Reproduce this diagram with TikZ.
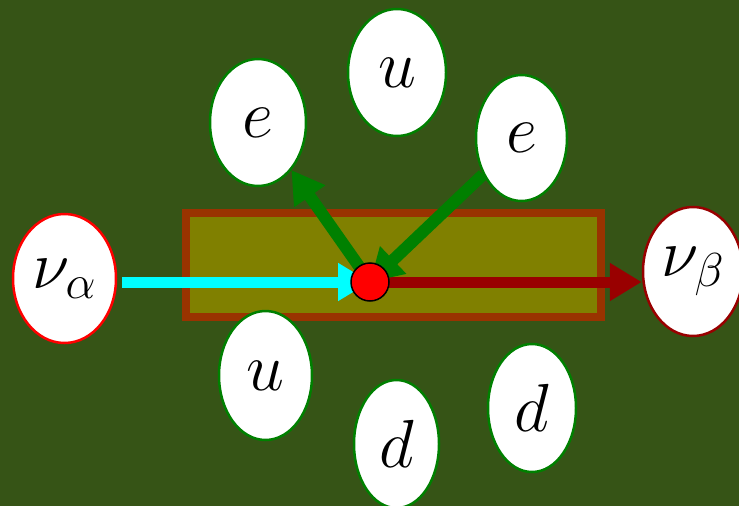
\RequirePackage{fix-cm}
\documentclass[tikz,border=0pt]{standalone}
\usetikzlibrary{arrows.meta,shapes.geometric}
\definecolor{bgc}{RGB}{54,84,22}
\definecolor{boxline}{RGB}{153,51,0}
\definecolor{boxfill}{RGB}{128,128,0}
\definecolor{grn}{RGB}{0,128,0}
\definecolor{dred}{RGB}{153,0,0}
\definecolor{cyn}{RGB}{0,255,255}
\definecolor{rd}{RGB}{255,0,0}
\begin{document}
\begin{tikzpicture}[x=1pt,y=-1pt,
  particle/.style={ellipse,fill=white,draw=grn,line width=2.5pt,inner sep=0pt,
    font=\fontsize{68}{68}\selectfont},
  flow/.style={line width=11pt,-{Triangle[length=32pt,width=36pt]}}]
\useasboundingbox (0,0) rectangle (739,506);
\fill[bgc] (0,0) rectangle (739,506);
\draw[boxline,fill=boxfill,line width=8pt] (186,213) rectangle (601,317);
\node[particle,draw=rd,minimum width=103pt,minimum height=129pt] (nua) at (64.5,278.5) {$\nu_\alpha$};
\node[particle,draw=dred,minimum width=100pt,minimum height=129pt] (nub) at (693,271.5) {$\nu_\beta$};
\node[particle,minimum width=96pt,minimum height=127pt] (eL) at (258,122.5) {$e$};
\node[particle,minimum width=98pt,minimum height=127pt] (uT) at (397,72.5) {$u$};
\node[particle,minimum width=91pt,minimum height=126pt] (eR) at (521.5,138) {$e$};
\node[particle,minimum width=93pt,minimum height=129pt] (uB) at (265.5,375.5) {$u$};
\node[particle,minimum width=85pt,minimum height=128pt] (dM) at (396.5,444) {$d$};
\node[particle,minimum width=88pt,minimum height=128pt] (dR) at (532,408) {$d$};
\coordinate (c) at (370,282);
\draw[flow,cyn,shorten <=5pt] (nua.east |- c) -- (c);
\draw[flow,dred] (c) -- (nub.west |- c);
\draw[flow,grn,line width=12pt] (c) -- (eL);
\draw[flow,grn,line width=12pt] (eR) -- (c);
\node[circle,fill=rd,draw=black,line width=1.5pt,minimum size=38pt,inner sep=0pt] (dot) at (c) {};
\end{tikzpicture}
\end{document}
